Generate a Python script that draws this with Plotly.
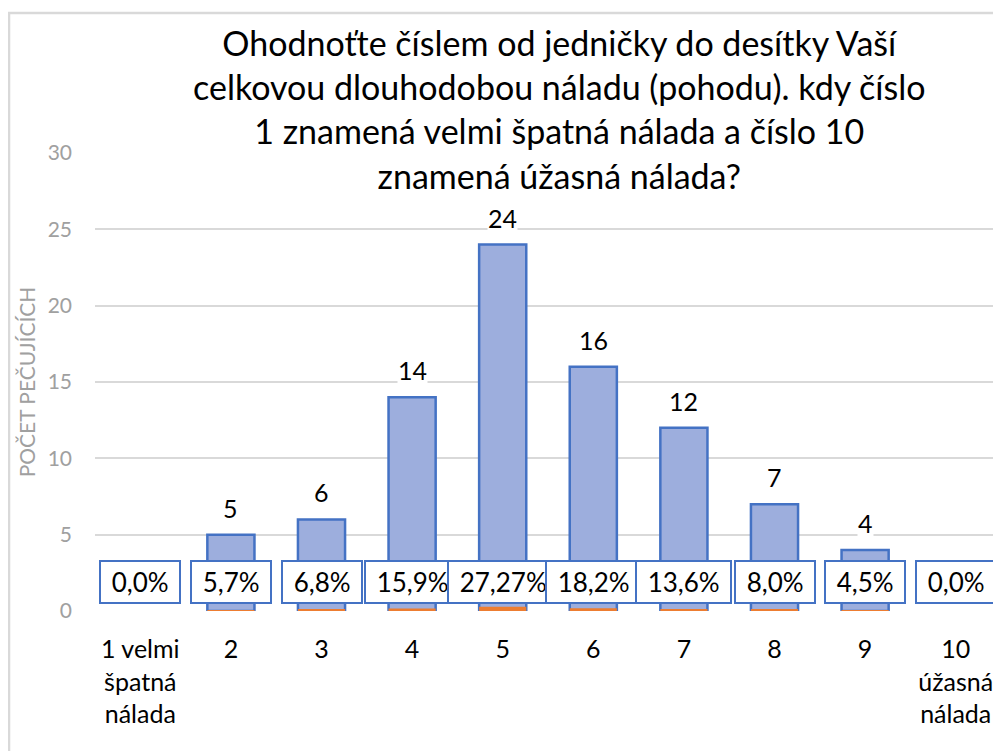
import plotly.graph_objects as go

categories = ["1 velmi špatná nálada", "2", "3", "4", "5", "6", "7", "8", "9", "10 úžasná nálada"]
tick_labels = ["1 velmi<br>špatná<br>nálada", "2", "3", "4", "5", "6", "7", "8", "9", "10<br>úžasná<br>nálada"]
counts = [0, 5, 6, 14, 24, 16, 12, 7, 4, 0]
shares = [0.0, 0.057, 0.068, 0.159, 0.2727, 0.182, 0.136, 0.080, 0.045, 0.0]
share_labels = ["0,0%", "5,7%", "6,8%", "15,9%", "27,27%", "18,2%", "13,6%", "8,0%", "4,5%", "0,0%"]
y_ticks = [0, 5, 10, 15, 20, 25, 30]

title_text = ("Ohodnoťte číslem od jedničky do desítky Vaší<br>"
              "celkovou dlouhodobou náladu (pohodu). kdy číslo<br>"
              "1 znamená velmi špatná nálada a číslo 10<br>"
              "znamená úžasná nálada?")

FONT = "Lato"
BLUE = "#4472c4"
FILL = "#9daedd"
ORANGE = "#ed7d31"
GRID = "#d9d9d9"
NBSP = "\u00a0"

fig = go.Figure()
fig.add_trace(go.Bar(
    x=categories, y=counts, width=0.52,
    marker=dict(color=FILL, line=dict(color=BLUE, width=[2.5 if v else 0 for v in counts])),
    showlegend=False, hoverinfo="x+y",
))
fig.add_trace(go.Bar(
    x=categories, y=shares, width=0.52,
    marker=dict(color=ORANGE, line=dict(width=0)),
    showlegend=False, hoverinfo="x+y",
))

annotations = []
for i, v in enumerate(counts):
    if v:
        annotations.append(dict(
            x=i, y=v, xref="x", yref="y", text=str(v), showarrow=False,
            yanchor="bottom", yshift=11, bgcolor="white", borderpad=0,
            font=dict(family=FONT, size=25, color="#000000"),
        ))
for i, t in enumerate(share_labels):
    annotations.append(dict(
        x=i, y=1.9, xref="x", yref="y", text=NBSP + t + NBSP, showarrow=False,
        yanchor="middle", bgcolor="white", bordercolor=BLUE, borderwidth=2,
        borderpad=4, font=dict(family=FONT, size=26, color="#000000"),
    ))
annotations.append(dict(
    x=0.513, y=1.096, xref="paper", yref="paper", text=title_text, showarrow=False,
    xanchor="center", yanchor="middle", align="center",
    font=dict(family=FONT, size=34, color="#000000"),
))

fig.update_layout(
    width=993, height=743,
    margin=dict(l=87, r=0, t=145, b=140),
    paper_bgcolor="white", plot_bgcolor="white",
    barmode="overlay",
    font=dict(family=FONT, color="#000000"),
    annotations=annotations,
    shapes=[
        dict(type="line", xref="paper", yref="y", x0=0, x1=1, y0=30, y1=30,
             line=dict(color="white", width=4), layer="above"),
        dict(type="rect", xref="paper", yref="paper", x0=-0.0949, x1=2, y0=-1, y1=1.3057,
             line=dict(color=GRID, width=2.5), layer="below"),
    ],
)
fig.update_xaxes(
    type="category",
    tickvals=categories, ticktext=tick_labels, showgrid=False, showline=False,
    zeroline=False, ticks="", ticklabelstandoff=21,
    tickfont=dict(family=FONT, size=25, color="#000000"),
)
fig.update_yaxes(
    range=[0, 30], tickvals=y_ticks, showgrid=True, gridcolor=GRID, gridwidth=2,
    zeroline=False, showline=False, ticks="", ticklabelstandoff=22,
    tickfont=dict(family=FONT, size=21, color="#a0a0a0"),
    title=dict(text="POČET PEČUJÍCÍCH", standoff=6,
               font=dict(family=FONT, size=21, color="#a0a0a0")),
)

fig.write_html("out.html")
